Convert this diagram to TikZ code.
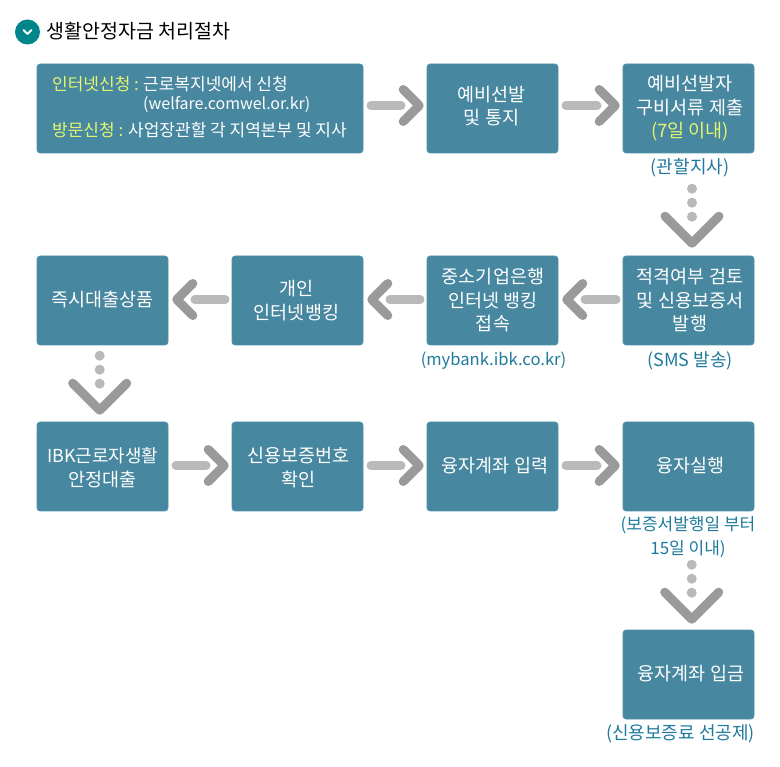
\documentclass[tikz,border=0pt]{standalone}
\usepackage{fontspec}
\setmainfont{Noto Sans CJK KR}
\usetikzlibrary{calc}
\definecolor{boxfill}{HTML}{47879F}
\definecolor{boxedge}{HTML}{4E93AC}
\definecolor{barc}{HTML}{B9B9B9}
\definecolor{chevc}{HTML}{9A9A9A}
\definecolor{notec}{HTML}{1F7A9C}
\definecolor{yel}{HTML}{E6F56E}
\definecolor{teal}{HTML}{00868A}
\tikzset{
 x=1pt,y=-1pt,
 flowbox/.style={draw=boxedge,fill=boxfill,rounded corners=3pt,line width=.6pt,inner sep=0pt,minimum height=89pt,minimum width=131pt},
 boxtext/.style={text=white,align=center,inner sep=0pt,font=\fontsize{18.5}{23.5}\selectfont},
 linetext/.style={anchor=west,inner sep=0pt,font=\fontsize{17}{20}\selectfont},
 note/.style={text=notec,align=center,inner sep=0pt,font=\fontsize{18}{23.5}\selectfont},
 bar/.style={draw=barc,line width=8.5pt,line cap=round},
 chev/.style={draw=chevc,line width=9pt,line cap=round,line join=round},
 dot/.style={circle,fill=barc,inner sep=0pt,minimum size=10pt},
}
% #1 name, #2 x, #3 y, #4 text dx, #5 text dy, #6 text
\newcommand{\flow}[6]{%
 \node[flowbox] (#1) at (#2,#3) {};
 \node[boxtext] (#1t) at ($(#1)+(#4,#5)$) {#6};}
% #1 from, #2 to, #3 dy
\newcommand{\rarrow}[3]{%
 \draw[bar] ($(#1.east)+(7.5,#3)$) -- ($(#2.west)+(-25.5,#3)$);
 \draw[chev] ($(#2.west)+(-23.5,#3-16)$) -- ($(#2.west)+(-7.5,#3)$) -- ($(#2.west)+(-23.5,#3+16)$);}
\newcommand{\larrow}[2]{%
 \draw[bar] ($(#1.west)+(-6.5,-1)$) -- ($(#2.east)+(26.5,-1)$);
 \draw[chev] ($(#2.east)+(24.5,-17)$) -- ($(#2.east)+(8.5,-1)$) -- ($(#2.east)+(24.5,15)$);}
% #1 from (unused anchor), #2 to, #3 prefix, #4 dx, #5 dy
\newcommand{\darrow}[5]{%
 \node[dot] (#3a) at ($(#2.north)+(#4,-67+#5)$) {};
 \node[dot] (#3b) at ($(#2.north)+(#4,-53+#5)$) {};
 \node[dot] (#3c) at ($(#2.north)+(#4,-39+#5)$) {};
 \draw[chev] ($(#2.north)+(#4-27,-39.5+#5)$) -- ($(#2.north)+(#4,-12.5+#5)$) -- ($(#2.north)+(#4+27,-39.5+#5)$);}
\begin{document}
\begin{tikzpicture}
\useasboundingbox (0,0) rectangle (780,767);
\fill[white] (0,0) rectangle (780,767);
% title
\node[circle,fill=teal,minimum size=25pt,inner sep=0pt] (ico) at (27.5,32) {};
\draw[white,line width=2pt,line cap=round,line join=round] ($(ico)+(-4,-2)$) -- ($(ico)+(0,2)$) -- ($(ico)+(4,-2)$);
\node[anchor=west,inner sep=0pt,font=\fontsize{19.5}{23}\selectfont] (title) at (46.5,31) {생활안정자금 처리절차};
% boxes
\node[flowbox,minimum width=326pt] (a1) at (200,108.5) {};
\node[linetext,text=yel] (a1y1) at (52,84) {인터넷신청 :};
\node[linetext,text=white] (a1t1) at (143,84) {근로복지넷에서 신청};
\node[linetext,text=white,font=\fontsize{16}{20}\selectfont] (a1t2) at (143,105) {(welfare.comwel.or.kr)};
\node[linetext,text=yel] (a1y2) at (52,130) {방문신청 :};
\node[linetext,text=white] (a1t3) at (128,130) {사업장관할 각 지역본부 및 지사};
\flow{a2}{492.5}{108.5}{-1}{-2.5}{예비선발\\및 통지}
\flow{a3}{688.5}{108.5}{1.5}{0}{예비선발자\\구비서류 제출\\\textcolor{yel}{(7일 이내)}}
\node[note] (n3) at (690,168) {(관할지사)};
\flow{b4}{688.5}{300.5}{1.5}{0}{적격여부 검토\\및 신용보증서\\발행}
\flow{b3}{492.5}{300.5}{0.5}{0}{중소기업은행\\인터넷 뱅킹\\접속}
\flow{b2}{297.5}{300.5}{-1}{0}{개인\\인터넷뱅킹}
\flow{b1}{102.5}{300.5}{0}{-1}{즉시대출상품}
\node[note] (nb4) at (690,361) {(SMS 발송)};
\node[note,font=\fontsize{16.6}{23.5}\selectfont] (nb3) at (493.5,361) {(mybank.ibk.co.kr)};
\flow{c1}{102.5}{466.5}{0}{1}{\fontsize{17.9}{23.5}\selectfont IBK근로자생활\\안정대출}
\flow{c2}{297.5}{466.5}{1}{1}{신용보증번호\\확인}
\flow{c3}{492.5}{466.5}{2.5}{-1}{융자계좌 입력}
\flow{c4}{688.5}{466.5}{2}{-1}{융자실행}
\node[note,font=\fontsize{17}{23.5}\selectfont] (nc4) at (688,537) {(보증서발행일 부터\\15일 이내)};
\flow{d4}{688.5}{674.5}{2.5}{-1}{융자계좌 입금}
\node[note] (nd4) at (680.5,734) {(신용보증료 선공제)};
% connectors
\rarrow{a1}{a2}{-3}
\rarrow{a2}{a3}{-3}
\larrow{b4}{b3}
\larrow{b3}{b2}
\larrow{b2}{b1}
\rarrow{c1}{c2}{-1}
\rarrow{c2}{c3}{-1}
\rarrow{c3}{c4}{-1}
\darrow{a3}{b4}{p}{3.5}{0}
\darrow{b1}{c1}{q}{-2.8}{1}
\darrow{c4}{d4}{r}{3.2}{2}
\end{tikzpicture}
\end{document}
